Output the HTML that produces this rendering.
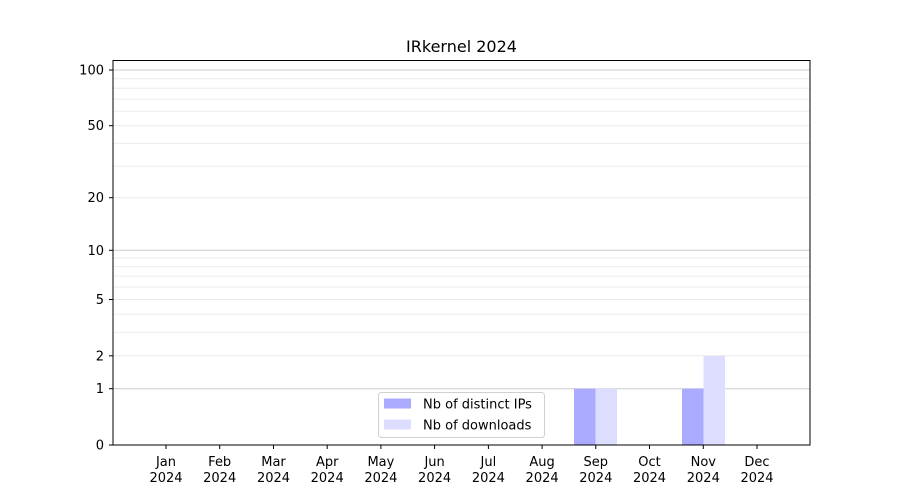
<!DOCTYPE html>
<html><head><meta charset="utf-8"><style>
html,body{margin:0;padding:0;background:#fff;}
svg{display:block;font-family:"DejaVu Sans","Liberation Sans",sans-serif;}
</style></head><body>
<svg width="900" height="500" viewBox="0 0 900 500" xmlns="http://www.w3.org/2000/svg">
<rect width="900" height="500" fill="#fff"/>
<g stroke="#ebebeb" stroke-width="1">
<line x1="113" x2="810" y1="355.8" y2="355.8"/>
<line x1="113" x2="810" y1="332.4" y2="332.4"/>
<line x1="113" x2="810" y1="314.3" y2="314.3"/>
<line x1="113" x2="810" y1="299.5" y2="299.5"/>
<line x1="113" x2="810" y1="287.0" y2="287.0"/>
<line x1="113" x2="810" y1="276.1" y2="276.1"/>
<line x1="113" x2="810" y1="266.6" y2="266.6"/>
<line x1="113" x2="810" y1="258.0" y2="258.0"/>
<line x1="113" x2="810" y1="197.7" y2="197.7"/>
<line x1="113" x2="810" y1="166.2" y2="166.2"/>
<line x1="113" x2="810" y1="143.4" y2="143.4"/>
<line x1="113" x2="810" y1="125.7" y2="125.7"/>
<line x1="113" x2="810" y1="111.3" y2="111.3"/>
<line x1="113" x2="810" y1="99.1" y2="99.1"/>
<line x1="113" x2="810" y1="88.2" y2="88.2"/>
<line x1="113" x2="810" y1="78.7" y2="78.7"/>
</g>
<g stroke="#cccccc" stroke-width="1">
<line x1="113" x2="810" y1="388.7" y2="388.7"/>
<line x1="113" x2="810" y1="250.3" y2="250.3"/>
<line x1="113" x2="810" y1="70" y2="70"/>
</g>
<rect x="574" y="388.7" width="21.5" height="56.3" fill="#aaaaff"/>
<rect x="595.5" y="388.7" width="21.5" height="56.3" fill="#ddddff"/>
<rect x="682" y="388.7" width="21.5" height="56.3" fill="#aaaaff"/>
<rect x="703.5" y="355.8" width="21.5" height="89.2" fill="#ddddff"/>
<rect x="113" y="60.5" width="697" height="384.5" fill="none" stroke="#000" stroke-width="1"/>
<g stroke="#000" stroke-width="1">
<line x1="109" x2="113" y1="445" y2="445"/>
<line x1="109" x2="113" y1="388.7" y2="388.7"/>
<line x1="109" x2="113" y1="355.8" y2="355.8"/>
<line x1="109" x2="113" y1="299.5" y2="299.5"/>
<line x1="109" x2="113" y1="250.3" y2="250.3"/>
<line x1="109" x2="113" y1="197.7" y2="197.7"/>
<line x1="109" x2="113" y1="125.7" y2="125.7"/>
<line x1="109" x2="113" y1="70" y2="70"/>
</g>
<g font-size="13" text-anchor="end" fill="#000">
<text x="104" y="449.5">0</text>
<text x="104" y="393.2">1</text>
<text x="104" y="360.3">2</text>
<text x="104" y="304">5</text>
<text x="104" y="254.8">10</text>
<text x="104" y="202.2">20</text>
<text x="104" y="130.2">50</text>
<text x="104" y="74.5">100</text>
</g>
<g stroke="#000" stroke-width="1">
<line x1="166" x2="166" y1="445" y2="449"/><line x1="219.7" x2="219.7" y1="445" y2="449"/>
<line x1="273.5" x2="273.5" y1="445" y2="449"/><line x1="327.2" x2="327.2" y1="445" y2="449"/>
<line x1="380.9" x2="380.9" y1="445" y2="449"/><line x1="434.6" x2="434.6" y1="445" y2="449"/>
<line x1="488.4" x2="488.4" y1="445" y2="449"/><line x1="542.1" x2="542.1" y1="445" y2="449"/>
<line x1="595.8" x2="595.8" y1="445" y2="449"/><line x1="649.5" x2="649.5" y1="445" y2="449"/>
<line x1="703.3" x2="703.3" y1="445" y2="449"/><line x1="757" x2="757" y1="445" y2="449"/>
</g>
<g font-size="13" text-anchor="middle" fill="#000">
<text x="166" y="466">Jan</text><text x="166" y="482">2024</text>
<text x="219.7" y="466">Feb</text><text x="219.7" y="482">2024</text>
<text x="273.5" y="466">Mar</text><text x="273.5" y="482">2024</text>
<text x="327.2" y="466">Apr</text><text x="327.2" y="482">2024</text>
<text x="380.9" y="466">May</text><text x="380.9" y="482">2024</text>
<text x="434.6" y="466">Jun</text><text x="434.6" y="482">2024</text>
<text x="488.4" y="466">Jul</text><text x="488.4" y="482">2024</text>
<text x="542.1" y="466">Aug</text><text x="542.1" y="482">2024</text>
<text x="595.8" y="466">Sep</text><text x="595.8" y="482">2024</text>
<text x="649.5" y="466">Oct</text><text x="649.5" y="482">2024</text>
<text x="703.3" y="466">Nov</text><text x="703.3" y="482">2024</text>
<text x="757" y="466">Dec</text><text x="757" y="482">2024</text>
</g>
<text x="461.5" y="52" font-size="16" text-anchor="middle">IRkernel 2024</text>
<rect x="378.5" y="392.5" width="166" height="45" rx="3" fill="#fff" fill-opacity="0.8" stroke="#d0d0d0"/>
<rect x="384" y="398.5" width="27" height="10" fill="#aaaaff"/>
<rect x="384" y="419.5" width="27" height="10" fill="#ddddff"/>
<text x="423" y="408.5" font-size="13">Nb of distinct IPs</text>
<text x="423" y="429.5" font-size="13">Nb of downloads</text>
</svg>
</body></html>
